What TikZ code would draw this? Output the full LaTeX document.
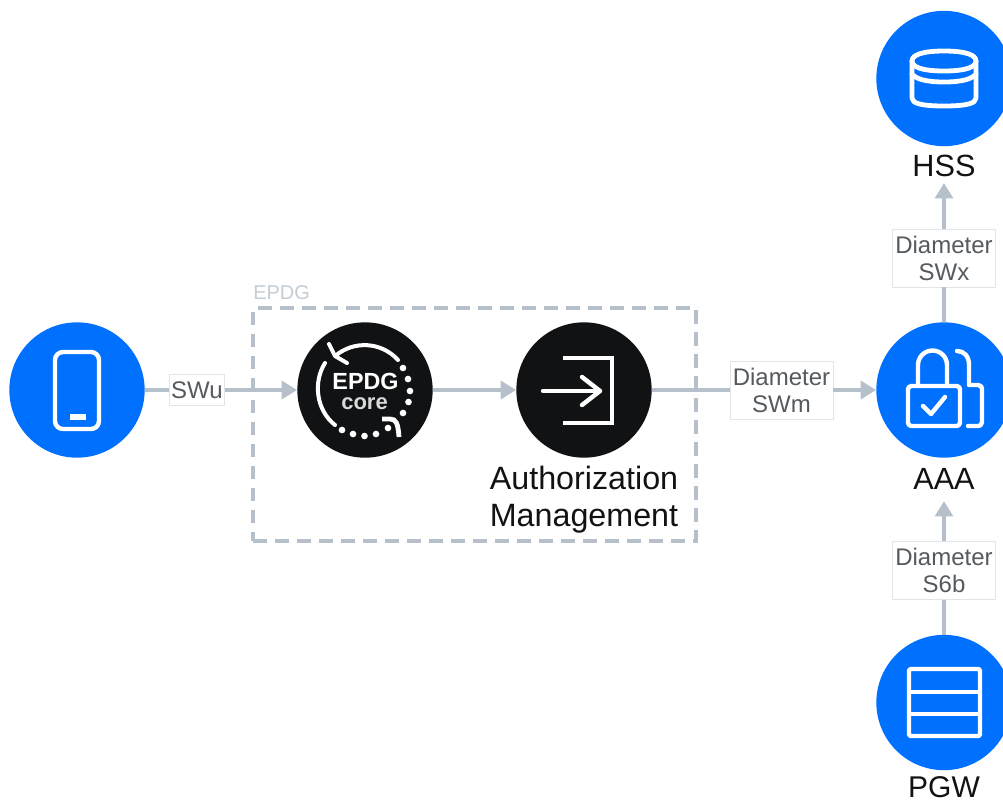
\documentclass[tikz,border=0pt]{standalone}
\usepackage{fontspec}
\setmainfont{Liberation Sans}
\usetikzlibrary{arrows.meta}
\definecolor{bluec}{HTML}{0070FF}
\definecolor{darkc}{HTML}{101214}
\definecolor{linec}{HTML}{B5C0CA}
\definecolor{boxc}{HTML}{E2E5E8}
\definecolor{txtc}{HTML}{555A5E}
\definecolor{epdgc}{HTML}{C4CCD4}
\tikzset{
  bluecircle/.style={circle,fill=bluec,minimum size=101.5pt,inner sep=0pt},
  darkcircle/.style={circle,fill=darkc,minimum size=101.5pt,inner sep=0pt},
  conn/.style={draw=linec,line width=2.5pt},
  connarrow/.style={conn,-{Triangle[length=11.5pt,width=13.5pt]}},
  edgelabel/.style={draw=boxc,line width=0.5pt,fill=white,inner sep=0pt,text=txtc,align=center,font=\fontsize{18}{20.2}\selectfont},
  iconline/.style={draw=white,line width=3.3pt,line cap=round,line join=round},
  iconmiter/.style={draw=white,line width=3.3pt,line join=miter},
  title/.style={inner xsep=0pt,text=darkc,font=\fontsize{23}{27}\selectfont},
  dot/.style={circle,fill=white,minimum size=5pt,inner sep=0pt}
}
\begin{document}
\begin{tikzpicture}[x=0.75pt,y=-0.75pt]
\useasboundingbox (0,0) rectangle (1003,801);
% EPDG group
\node[draw=linec,line width=2.6pt,dash pattern=on 10pt off 6.5pt,minimum width=332pt,minimum height=174.75pt,inner sep=0pt] (epdg) at (474.5,424.5) {};
\node[anchor=west,inner sep=0pt,text=epdgc,font=\fontsize{15}{17}\selectfont] (epdglabel) at (253,293) {EPDG};
% nodes
\node[bluecircle] (phone) at (77,390) {};
\node[darkcircle] (core) at (365,390) {};
\node[darkcircle] (auth) at (584,390) {};
\node[bluecircle] (aaa) at (944,390) {};
\node[bluecircle] (hss) at (944,78.5) {};
\node[bluecircle] (pgw) at (944,702.5) {};
% titles
\node[title,inner ysep=4.5pt] (hsslabel) at (944,166) {HSS};
\node[title,inner ysep=8.5pt] (aaalabel) at (944,479) {AAA};
\node[title,inner ysep=0pt,font=\fontsize{22.5}{24}\selectfont] (pgwlabel) at (944,787) {PGW};
\node[inner sep=0pt,text=darkc,align=center,font=\fontsize{24.2}{27.75}\selectfont] (authlabel) at (584,500) {Authorization\\Management};
% edge labels
\node[edgelabel,minimum width=41.25pt,minimum height=23.25pt] (swu) at (197,390) {SWu};
\node[edgelabel,minimum width=77.25pt,minimum height=43.5pt] (swm) at (781.5,390) {Diameter\\SWm};
\node[edgelabel,minimum width=77.25pt,minimum height=43.5pt] (swx) at (944,258) {Diameter\\SWx};
\node[edgelabel,minimum width=77.25pt,minimum height=43.5pt] (s6b) at (944,570.5) {Diameter\\S6b};
% connectors
\draw[conn] (phone) -- (swu);
\draw[connarrow] (swu) -- (core);
\draw[connarrow] (core) -- (auth);
\draw[conn] (auth) -- (swm);
\draw[connarrow] (swm) -- (aaa);
\draw[conn] (aaa) -- (swx);
\draw[connarrow] (swx) -- (hsslabel);
\draw[conn] (pgw) -- (s6b);
\draw[connarrow] (s6b) -- (aaalabel);
% phone icon
\draw[iconline,rounded corners=6pt] (55,352) rectangle (99,429);
\draw[draw=white,line width=3.8pt] (70,417) -- (86,417);
% AAA icon
\draw[iconline,rounded corners=2.5pt] (908,386) rectangle (960,426);
\draw[iconline] (918,385) -- (918,365) arc[start angle=180,end angle=360,radius=14.5] -- (947,385);
\draw[iconline] (957,351) .. controls (964,351) and (969,356) .. (969,365) -- (969,385) -- (978,385) .. controls (981,385) and (982,387) .. (982,389) -- (982,422) .. controls (982,425) and (980,426) .. (978,426) -- (968,426);
\draw[iconline] (923,406) -- (931,414) -- (945,397);
% HSS icon
\draw[iconline,line width=3.6pt] (944,51) .. controls (966,51) and (976,55) .. (976,61) .. controls (976,67) and (966,71) .. (944,71) .. controls (922,71) and (912,67) .. (912,61) .. controls (912,55) and (922,51) .. (944,51) -- cycle;
\draw[iconline,line width=3.6pt] (912,61) -- (912,98) .. controls (912,103) and (920,106) .. (944,106) .. controls (968,106) and (976,103) .. (976,98) -- (976,61);
\draw[iconline,line width=3.6pt] (912,74) .. controls (916,79) and (926,82) .. (944,82) .. controls (962,82) and (972,79) .. (976,74);
% PGW icon
\draw[iconline,rounded corners=1.5pt] (909,669) rectangle (980,736);
\draw[draw=white,line width=3.3pt] (909,692) -- (980,692);
\draw[draw=white,line width=3.3pt] (909,714) -- (980,714);
% auth icon
\draw[iconline] (543,391) -- (600,391);
\draw[iconline] (582,377) -- (600,391) -- (582,405);
\draw[iconmiter] (563,358) -- (612,358) -- (612,423) -- (563,423);
% core icon
\draw[iconline,line width=3pt] (398,360) arc[start angle=-42,end angle=-130,radius=45];
\draw[iconline,line width=3pt] (329,344) -- (335,356) -- (347,363);
\draw[iconline,line width=3pt] (325,363) .. controls (313,382) and (316,410) .. (335,425);
\foreach \n/\dx/\dy in {a/403/368,b/408/379,c/410/391,d/408.5/402,e/403/413,f/342/430,g/353/434,h/364.5/436,i/376/434,j/388/428}
  \node[dot] (dot\n) at (\dx,\dy) {};
\draw[iconmiter,line cap=butt,line width=3.6pt] (382,419) -- (390,419) .. controls (396,419) and (398,423) .. (399,437);
\node[inner sep=0pt,text=white,font=\bfseries\fontsize{17.5}{19}\selectfont] (coretitle) at (365.5,381) {EPDG};
\node[inner sep=0pt,text=white!85!black,font=\bfseries\fontsize{16.5}{19}\selectfont] (coresub) at (364.5,404) {core};
\end{tikzpicture}
\end{document}
